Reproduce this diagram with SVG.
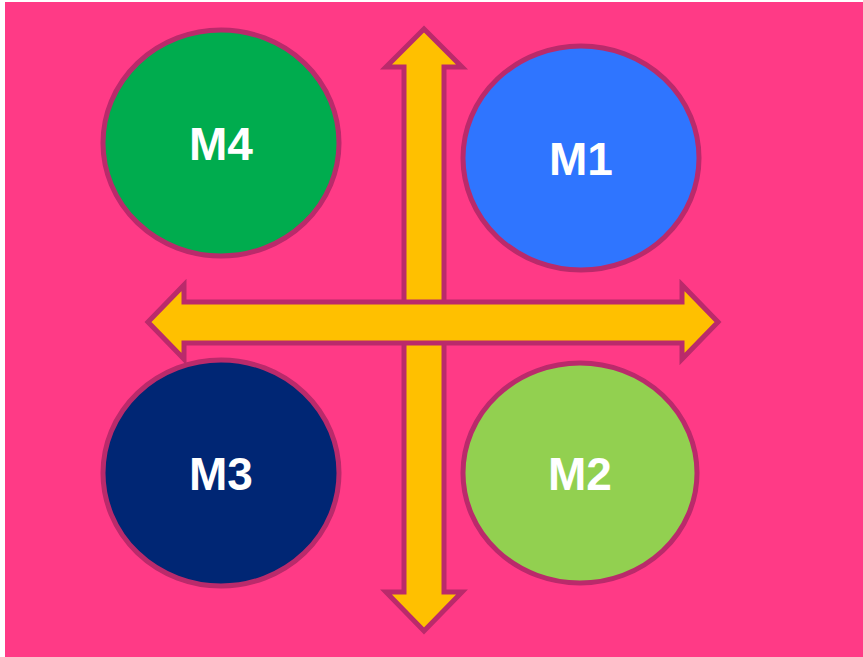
<svg xmlns="http://www.w3.org/2000/svg" width="863" height="657" viewBox="0 0 863 657">
<style>
.node{stroke:#BA2A6B;stroke-width:5}
.arrow{fill:#FFC000;stroke:#BA2A6B;stroke-width:5;stroke-linejoin:miter}
.lbl{font-family:"Liberation Sans",Arial,sans-serif;font-weight:bold;font-size:46px;fill:#FFFFFF;text-anchor:middle}
</style>
<rect x="0" y="0" width="863" height="657" fill="#FFFFFF"/>
<rect x="5" y="2" width="858" height="655" fill="#FF3A86"/>
<g id="connectors">
<polygon class="arrow" points="424,29 462,67 444,67 444,592 462,592 424,631 386,592 404,592 404,67 386,67"/>
<polygon class="arrow" points="148,322 184,285 184,302 682,302 682,285 718,322 682,359 682,343 184,343 184,359"/>
</g>
<g id="M4"><ellipse class="node" cx="221" cy="143" rx="118" ry="113" fill="#00AC4E"/><text class="lbl" x="221" y="160">M4</text></g>
<g id="M1"><ellipse class="node" cx="581" cy="158" rx="118" ry="112" fill="#2F75FF"/><text class="lbl" x="581" y="175">M1</text></g>
<g id="M3"><ellipse class="node" cx="221" cy="473" rx="118" ry="113" fill="#002674"/><text class="lbl" x="221" y="490">M3</text></g>
<g id="M2"><ellipse class="node" cx="580" cy="473" rx="117" ry="110" fill="#92D050"/><text class="lbl" x="580" y="490">M2</text></g>
</svg>
